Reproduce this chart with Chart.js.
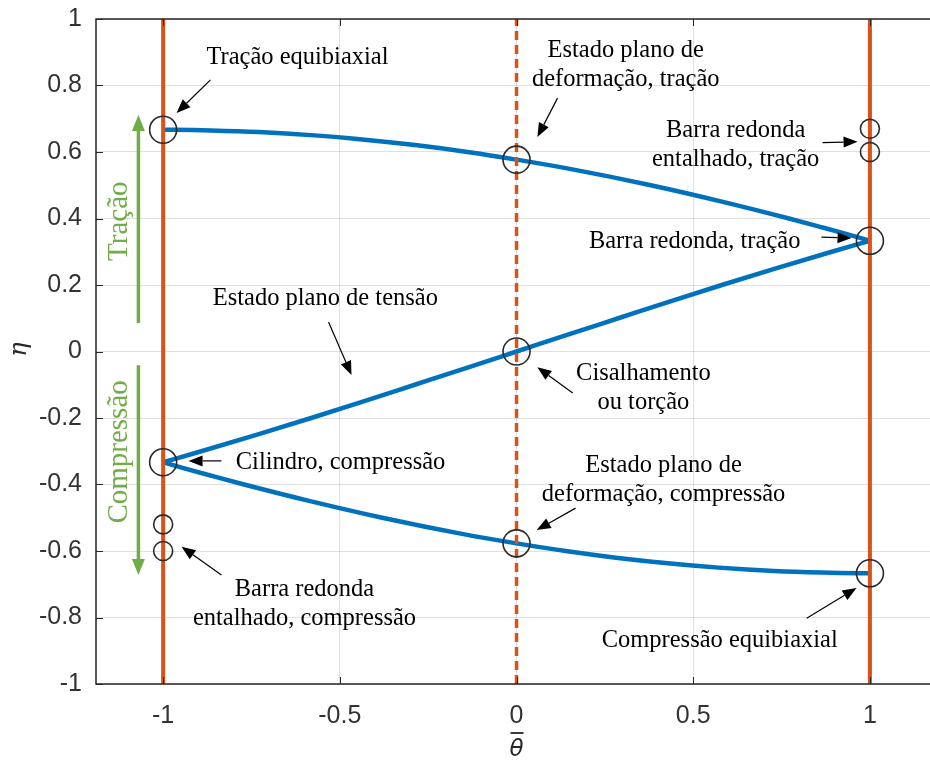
<!DOCTYPE html>
<html><head><meta charset="utf-8">
<script src="https://cdn.jsdelivr.net/npm/chart.js@4.4.1/dist/chart.umd.min.js"></script>
<style>html,body{margin:0;padding:0;background:#fff;overflow:hidden}#wrap{width:930px;height:760px}</style>
</head><body><div id="wrap"><canvas id="c" width="930" height="760"></canvas></div>
<script>
// ---- data ----
const upperX = [-1, -0.915, -0.865, -0.729, -0.572, -0.458, -0.281, -0.139, 0, 0.147, 0.380, 0.584, 0.771, 0.859, 0.945, 1];
const upperY = [0.667, 0.666, 0.665, 0.660, 0.650, 0.640, 0.620, 0.600, 0.577, 0.550, 0.500, 0.450, 0.400, 0.375, 0.350, 0.333];
const middleX = [-1, -0.892, -0.734, -0.581, -0.433, -0.288, -0.143, 0, 0.143, 0.288, 0.433, 0.581, 0.734, 0.892, 1];
const middleY = [-0.333, -0.300, -0.250, -0.200, -0.150, -0.100, -0.050, 0, 0.050, 0.100, 0.150, 0.200, 0.250, 0.300, 0.333];
const lowerX = [-1, -0.945, -0.859, -0.771, -0.584, -0.380, -0.147, 0, 0.139, 0.281, 0.458, 0.572, 0.729, 0.865, 0.915, 1];
const lowerY = [-0.333, -0.350, -0.375, -0.400, -0.450, -0.500, -0.550, -0.577, -0.600, -0.620, -0.640, -0.650, -0.660, -0.665, -0.666, -0.667];
const markerX = [-1, 0, 1, 0, -1, 0, 1];
const markerY = [0.667, 0.577, 0.333, 0, -0.333, -0.577, -0.667];
const smallMarkerX = [1, 1, -1, -1];
const smallMarkerY = [0.67, 0.60, -0.52, -0.60];
const solidLineX = [-1, 1];
const dashedLineX = [0];
const xTicks = [-1, -0.5, 0, 0.5, 1];
const xTickLabels = ['-1', '-0.5', '0', '0.5', '1'];
const yTicks = [-1, -0.8, -0.6, -0.4, -0.2, 0, 0.2, 0.4, 0.6, 0.8, 1];
const yTickLabels = ['-1', '-0.8', '-0.6', '-0.4', '-0.2', '0', '0.2', '0.4', '0.6', '0.8', '1'];

// annotation texts (data coordinates)
const notes = [
  {lines: ['Tração equibiaxial'], x: -0.62, y: 0.883},
  {lines: ['Estado plano de', 'deformação, tração'], x: 0.309, y: 0.862},
  {lines: ['Barra redonda', 'entalhado, tração'], x: 0.62, y: 0.62},
  {lines: ['Barra redonda, tração'], x: 0.504, y: 0.332},
  {lines: ['Estado plano de tensão'], x: -0.541, y: 0.158},
  {lines: ['Cisalhamento', 'ou torção'], x: 0.359, y: -0.11},
  {lines: ['Cilindro, compressão'], x: -0.498, y: -0.335},
  {lines: ['Estado plano de', 'deformação, compressão'], x: 0.416, y: -0.388},
  {lines: ['Barra redonda', 'entalhado, compressão'], x: -0.6, y: -0.76},
  {lines: ['Compressão equibiaxial'], x: 0.575, y: -0.868}
];
const arrows = [
  {from: [-0.866, 0.817], to: [-0.962, 0.717]},
  {from: [0.116, 0.762], to: [0.059, 0.645]},
  {from: [0.866, 0.628], to: [0.965, 0.631]},
  {from: [0.863, 0.344], to: [0.948, 0.341]},
  {from: [-0.532, 0.089], to: [-0.467, -0.071]},
  {from: [0.159, -0.125], to: [0.059, -0.047]},
  {from: [-0.835, -0.329], to: [-0.928, -0.329]},
  {from: [0.167, -0.471], to: [0.057, -0.537]},
  {from: [-0.835, -0.672], to: [-0.948, -0.587]},
  {from: [0.821, -0.802], to: [0.962, -0.711]}
];
const greenArrows = [
  {x: -1.07, from: 0.086, to: 0.711},
  {x: -1.07, from: -0.041, to: -0.672}
];
const greenTexts = [
  {text: 'Tração', x: -1.124, y: 0.392},
  {text: 'Compressão', x: -1.124, y: -0.302}
];

const BLUE = '#0072BD', ORANGE = '#D95319', GREEN = '#70AD47', AX = '#262626';
const pts = (xs, ys) => xs.map((v, i) => ({x: v, y: ys[i]}));

const datasets = [];
solidLineX.forEach(v => datasets.push({data: [{x: v, y: -1}, {x: v, y: 1}], showLine: true, borderColor: ORANGE, borderWidth: 4, pointRadius: 0, order: 1}));
dashedLineX.forEach(v => datasets.push({data: [{x: v, y: -1}, {x: v, y: 1}], showLine: true, borderColor: ORANGE, borderWidth: 3.5, borderDash: [9, 5], pointRadius: 0, order: 1}));
[[upperX, upperY], [middleX, middleY], [lowerX, lowerY]].forEach(([xs, ys]) => datasets.push({
  data: pts(xs, ys), showLine: true, borderColor: BLUE, borderWidth: 4.5, pointRadius: 0,
  cubicInterpolationMode: 'monotone', order: 2
}));
datasets.push({data: pts(markerX, markerY), showLine: false, pointRadius: 13.5, pointBorderColor: '#2a2a2a', pointBackgroundColor: 'rgba(0,0,0,0)', pointBorderWidth: 1.6, order: 0});
datasets.push({data: pts(smallMarkerX, smallMarkerY), showLine: false, pointRadius: 9.5, pointBorderColor: '#2a2a2a', pointBackgroundColor: 'rgba(0,0,0,0)', pointBorderWidth: 1.6, order: 0});

function arrowHead(ctx, x0, y0, x1, y1, len, hw) {
  const a = Math.atan2(y1 - y0, x1 - x0);
  const bx = x1 - len * Math.cos(a), by = y1 - len * Math.sin(a);
  ctx.beginPath();
  ctx.moveTo(x1, y1);
  ctx.lineTo(bx + hw * Math.sin(a), by - hw * Math.cos(a));
  ctx.lineTo(bx - hw * Math.sin(a), by + hw * Math.cos(a));
  ctx.closePath();
  ctx.fill();
  return [bx, by];
}

const decor = {
  id: 'decor',
  afterLayout(chart) {
    // let the plot area run to the right edge of the canvas (cropped right side, as in the reference)
    const a = chart.chartArea, xs = chart.scales.x, R = chart.width;
    a.right = R; a.width = R - a.left;
    xs.right = R; xs.width = R - xs.left;
    xs.configure();
  },
  afterDraw(chart) {
    const {ctx, chartArea: a, scales: {x, y}} = chart;
    ctx.save();
    // frame
    ctx.strokeStyle = AX; ctx.lineWidth = 1.5;
    ctx.beginPath();
    ctx.moveTo(a.right, a.top); ctx.lineTo(a.left, a.top); ctx.lineTo(a.left, a.bottom); ctx.lineTo(a.right, a.bottom);
    ctx.stroke();
    // inward ticks
    ctx.lineWidth = 1;
    ctx.beginPath();
    yTicks.forEach(v => { const py = Math.round(y.getPixelForValue(v)) + 0.5; ctx.moveTo(a.left, py); ctx.lineTo(a.left + 7, py); });
    xTicks.forEach(v => { const px = Math.round(x.getPixelForValue(v)) + 0.5; ctx.moveTo(px, a.bottom); ctx.lineTo(px, a.bottom - 7); ctx.moveTo(px, a.top); ctx.lineTo(px, a.top + 7); });
    ctx.stroke();

    // annotations
    ctx.fillStyle = '#000';
    ctx.font = '24.5px "Liberation Serif"';
    ctx.textAlign = 'center'; ctx.textBaseline = 'middle';
    notes.forEach(n => {
      const cx = x.getPixelForValue(n.x), cy = y.getPixelForValue(n.y);
      const lh = 29, top = cy - (n.lines.length - 1) * lh / 2;
      n.lines.forEach((t, i) => ctx.fillText(t, cx, top + i * lh));
    });
    ctx.strokeStyle = '#000'; ctx.lineWidth = 1.2;
    arrows.forEach(ar => {
      const x0 = x.getPixelForValue(ar.from[0]), y0 = y.getPixelForValue(ar.from[1]);
      const x1 = x.getPixelForValue(ar.to[0]), y1 = y.getPixelForValue(ar.to[1]);
      const [bx, by] = arrowHead(ctx, x0, y0, x1, y1, 14, 5.5);
      ctx.beginPath(); ctx.moveTo(x0, y0); ctx.lineTo(bx, by); ctx.stroke();
    });

    // green arrows & texts
    ctx.fillStyle = GREEN; ctx.strokeStyle = GREEN; ctx.lineWidth = 3.5;
    greenArrows.forEach(g => {
      const px = x.getPixelForValue(g.x), y0 = y.getPixelForValue(g.from), y1 = y.getPixelForValue(g.to);
      const [bx, by] = arrowHead(ctx, px, y0, px, y1, 16, 6.5);
      ctx.beginPath(); ctx.moveTo(px, y0); ctx.lineTo(bx, by); ctx.stroke();
    });
    ctx.font = '29px "Liberation Serif"';
    greenTexts.forEach(g => {
      ctx.save();
      ctx.translate(x.getPixelForValue(g.x), y.getPixelForValue(g.y));
      ctx.rotate(-Math.PI / 2);
      ctx.fillText(g.text, 0, 0);
      ctx.restore();
    });

    // axis titles
    ctx.fillStyle = AX; ctx.strokeStyle = AX;
    ctx.font = 'italic 24px "DejaVu Serif"';
    ctx.save();
    ctx.translate(a.left - 76, (a.top + a.bottom) / 2 - 2);
    ctx.rotate(-Math.PI / 2);
    ctx.fillText('η', 0, 0);
    ctx.restore();
    const tx = x.getPixelForValue(0);
    ctx.font = 'italic 23px "DejaVu Sans"';
    ctx.fillText('θ', tx, a.bottom + 66);
    ctx.lineWidth = 1.8;
    ctx.beginPath(); ctx.moveTo(tx - 6, a.bottom + 49); ctx.lineTo(tx + 7, a.bottom + 49); ctx.stroke();
    ctx.restore();
  }
};

new Chart(document.getElementById('c'), {
  type: 'scatter',
  data: {datasets},
  options: {
    responsive: false, animation: false, devicePixelRatio: 1,
    layout: {padding: {top: 19, left: 0, right: 0, bottom: 0}},
    plugins: {legend: {display: false}, tooltip: {enabled: false}},
    scales: {
      x: {
        type: 'linear', min: -1.19, max: 1.17,
        afterBuildTicks: s => { s.ticks = xTicks.map(v => ({value: v})); },
        afterFit: s => { s.height = 76; s.paddingLeft = 0; s.paddingRight = 0; },
        ticks: {color: '#333', padding: 17, font: {family: '"Liberation Sans", Arial', size: 25},
          callback: (v) => xTickLabels[xTicks.indexOf(v)] ?? ''},
        grid: {color: 'rgba(0,0,0,0.12)', lineWidth: 1, drawTicks: false},
        border: {display: false}
      },
      y: {
        type: 'linear', min: -1, max: 1,
        afterBuildTicks: s => { s.ticks = yTicks.map(v => ({value: v})); },
        afterFit: s => { s.width = 96; s.paddingTop = 0; s.paddingBottom = 0; },
        ticks: {color: '#333', padding: 14, font: {family: '"Liberation Sans", Arial', size: 25},
          callback: (v) => yTickLabels[yTicks.indexOf(v)] ?? ''},
        grid: {color: 'rgba(0,0,0,0.12)', lineWidth: 1, drawTicks: false},
        border: {display: false}
      }
    }
  },
  plugins: [decor]
});
</script>
</body></html>
